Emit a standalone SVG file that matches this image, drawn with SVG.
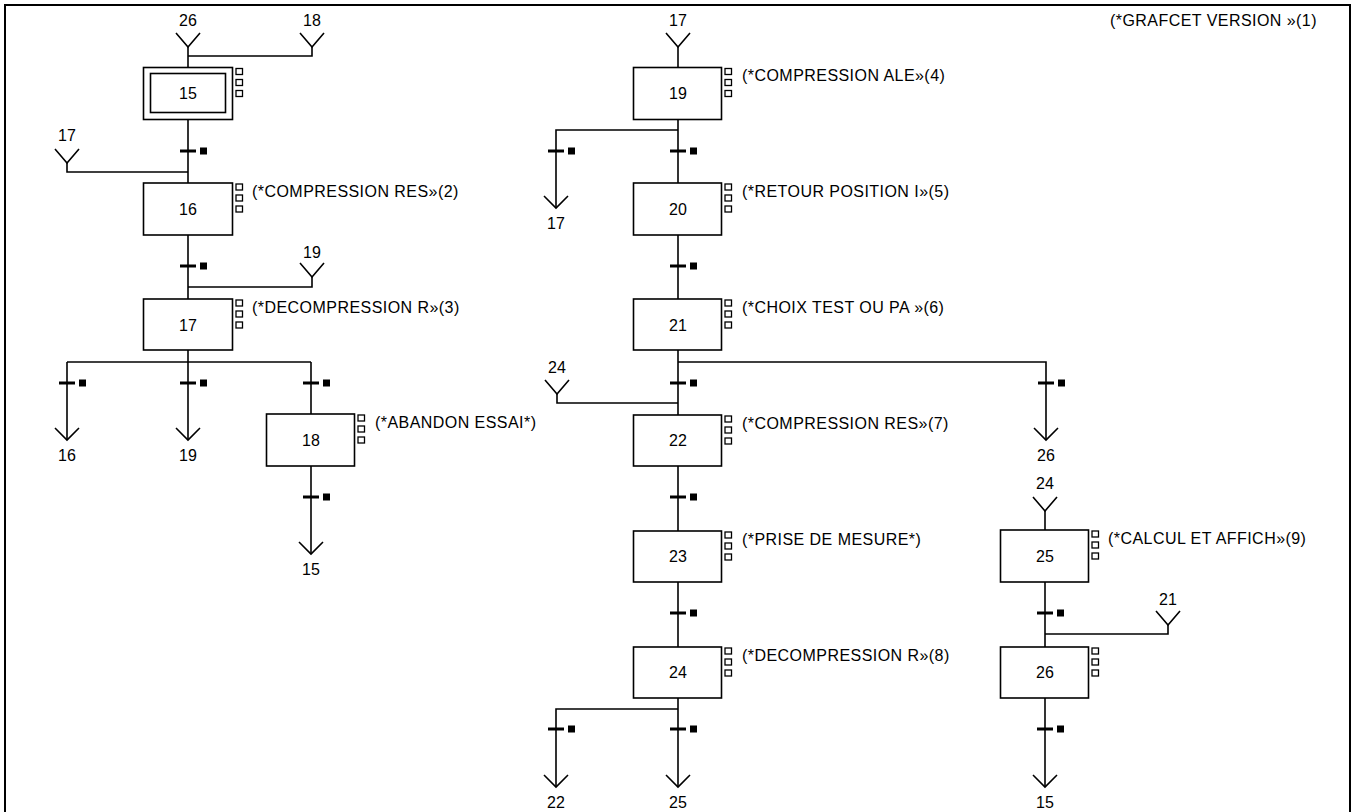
<svg xmlns="http://www.w3.org/2000/svg" width="1354" height="812" viewBox="0 0 1354 812">
<style>
.ln{stroke:#000;stroke-width:1.6;fill:none}
.box{stroke:#000;stroke-width:1.6;fill:#fff}
.sq{stroke:#000;stroke-width:1.3;fill:#fff}
.bar{stroke:#000;stroke-width:3}
.num{font-family:"Liberation Sans",Arial,sans-serif;font-size:16px;text-anchor:middle;fill:#000}
.act{font-family:"Liberation Sans",Arial,sans-serif;font-size:16px;letter-spacing:0.45px;fill:#000}
</style>
<defs>
<g id="acts"><rect class="sq" x="0" y="0" width="6.5" height="6"/><rect class="sq" x="0" y="11" width="6.5" height="6"/><rect class="sq" x="0" y="22" width="6.5" height="6"/></g>
<g id="tr"><line class="bar" x1="-8" y1="0" x2="8" y2="0"/><rect x="12" y="-3.5" width="7" height="7" fill="#000"/></g>
<path id="vin" class="ln" d="M-12,-14 L0,0 L12,-14"/>
<path id="vout" class="ln" d="M-12,-12 L0,0 L12,-12"/>
</defs>
<rect x="0" y="0" width="1354" height="812" fill="#fff"/>
<rect x="5" y="5" width="1345" height="830" fill="none" stroke="#000" stroke-width="2"/>
<text class="act" x="1110" y="26">(*GRAFCET VERSION »(1)</text>

<g id="connectors">
<!-- column 1 -->
<line class="ln" x1="188" y1="47" x2="188" y2="67.5"/>
<use href="#vin" x="188" y="47"/>
<use href="#vin" x="312" y="47"/>
<polyline class="ln" points="312,47 312,56 188,56"/>
<line class="ln" x1="188" y1="119.5" x2="188" y2="183"/>
<use href="#tr" x="188" y="151"/>
<use href="#vin" x="67" y="163"/>
<polyline class="ln" points="67,163 67,172 188,172"/>
<line class="ln" x1="188" y1="235" x2="188" y2="299"/>
<use href="#tr" x="188" y="266"/>
<use href="#vin" x="312" y="277"/>
<polyline class="ln" points="312,277 312,287 188,287"/>
<line class="ln" x1="188" y1="350" x2="188" y2="440"/>
<line class="ln" x1="67" y1="362" x2="311" y2="362"/>
<line class="ln" x1="67" y1="362" x2="67" y2="440"/>
<line class="ln" x1="311" y1="362" x2="311" y2="414"/>
<use href="#tr" x="67" y="383"/>
<use href="#tr" x="188" y="383"/>
<use href="#tr" x="311" y="383"/>
<use href="#vout" x="67" y="440"/>
<use href="#vout" x="188" y="440"/>
<line class="ln" x1="311" y1="466" x2="311" y2="554"/>
<use href="#tr" x="311" y="497"/>
<use href="#vout" x="311" y="554"/>
<!-- column 2 -->
<use href="#vin" x="678" y="47"/>
<line class="ln" x1="678" y1="47" x2="678" y2="67.5"/>
<line class="ln" x1="678" y1="119.5" x2="678" y2="183"/>
<polyline class="ln" points="678,130 556,130 556,208"/>
<use href="#tr" x="556" y="151"/>
<use href="#tr" x="678" y="151"/>
<use href="#vout" x="556" y="208"/>
<line class="ln" x1="678" y1="235" x2="678" y2="299"/>
<use href="#tr" x="678" y="266"/>
<line class="ln" x1="678" y1="350" x2="678" y2="415"/>
<polyline class="ln" points="678,362 1046,362 1046,440"/>
<use href="#tr" x="678" y="383"/>
<use href="#tr" x="1046" y="383"/>
<use href="#vout" x="1046" y="440"/>
<use href="#vin" x="557" y="394"/>
<polyline class="ln" points="557,394 557,403 678,403"/>
<line class="ln" x1="678" y1="466" x2="678" y2="531"/>
<use href="#tr" x="678" y="497"/>
<line class="ln" x1="678" y1="582" x2="678" y2="647"/>
<use href="#tr" x="678" y="613"/>
<line class="ln" x1="678" y1="698" x2="678" y2="787"/>
<polyline class="ln" points="678,709 556,709 556,787"/>
<use href="#tr" x="556" y="729"/>
<use href="#tr" x="678" y="729"/>
<use href="#vout" x="556" y="787"/>
<use href="#vout" x="678" y="787"/>
<!-- column 3 -->
<use href="#vin" x="1045" y="511"/>
<line class="ln" x1="1045" y1="511" x2="1045" y2="530"/>
<line class="ln" x1="1045" y1="582" x2="1045" y2="647"/>
<use href="#tr" x="1045" y="613"/>
<use href="#vin" x="1168" y="625"/>
<polyline class="ln" points="1168,625 1168,634 1045,634"/>
<line class="ln" x1="1045" y1="698" x2="1045" y2="787"/>
<use href="#tr" x="1045" y="729"/>
<use href="#vout" x="1045" y="787"/>
</g>

<g id="labels">
<text class="num" x="188" y="26">26</text>
<text class="num" x="312" y="26">18</text>
<text class="num" x="67" y="141">17</text>
<text class="num" x="312" y="258">19</text>
<text class="num" x="67" y="461">16</text>
<text class="num" x="188" y="461">19</text>
<text class="num" x="311" y="575">15</text>
<text class="num" x="678" y="26">17</text>
<text class="num" x="556" y="229">17</text>
<text class="num" x="557" y="373">24</text>
<text class="num" x="1046" y="461">26</text>
<text class="num" x="556" y="808">22</text>
<text class="num" x="678" y="808">25</text>
<text class="num" x="1045" y="489">24</text>
<text class="num" x="1168" y="605">21</text>
<text class="num" x="1045" y="808">15</text>
</g>

<g id="step15"><rect class="box" x="143.5" y="67.5" width="89" height="52"/><rect class="box" x="150.5" y="73.5" width="75" height="39"/><text class="num" x="188" y="99">15</text><use href="#acts" x="236" y="68.5"/></g>
<g id="step16"><rect class="box" x="143.5" y="183" width="89" height="52"/><text class="num" x="188" y="215">16</text><use href="#acts" x="236" y="184"/><text class="act" x="252" y="197">(*COMPRESSION RES»(2)</text></g>
<g id="step17"><rect class="box" x="143.5" y="299" width="89" height="51"/><text class="num" x="188" y="331">17</text><use href="#acts" x="236" y="300"/><text class="act" x="252" y="313">(*DECOMPRESSION R»(3)</text></g>
<g id="step18"><rect class="box" x="266.5" y="414" width="88" height="52"/><text class="num" x="311" y="446">18</text><use href="#acts" x="358" y="415"/><text class="act" x="375" y="428">(*ABANDON ESSAI*)</text></g>
<g id="step19"><rect class="box" x="633.5" y="67.5" width="88" height="52"/><text class="num" x="678" y="99">19</text><use href="#acts" x="725" y="68.5"/><text class="act" x="742" y="81">(*COMPRESSION ALE»(4)</text></g>
<g id="step20"><rect class="box" x="633.5" y="183" width="88" height="52"/><text class="num" x="678" y="215">20</text><use href="#acts" x="725" y="184"/><text class="act" x="742" y="197">(*RETOUR POSITION I»(5)</text></g>
<g id="step21"><rect class="box" x="633.5" y="299" width="88" height="51"/><text class="num" x="678" y="331">21</text><use href="#acts" x="725" y="300"/><text class="act" x="742" y="313">(*CHOIX TEST OU PA »(6)</text></g>
<g id="step22"><rect class="box" x="633.5" y="415" width="88" height="51"/><text class="num" x="678" y="446">22</text><use href="#acts" x="725" y="416"/><text class="act" x="742" y="429">(*COMPRESSION RES»(7)</text></g>
<g id="step23"><rect class="box" x="633.5" y="531" width="88" height="51"/><text class="num" x="678" y="562">23</text><use href="#acts" x="725" y="532"/><text class="act" x="742" y="545">(*PRISE DE MESURE*)</text></g>
<g id="step24"><rect class="box" x="633.5" y="647" width="88" height="51"/><text class="num" x="678" y="678">24</text><use href="#acts" x="725" y="648"/><text class="act" x="742" y="661">(*DECOMPRESSION R»(8)</text></g>
<g id="step25"><rect class="box" x="1000.5" y="530" width="88" height="52"/><text class="num" x="1045" y="562">25</text><use href="#acts" x="1092" y="531"/><text class="act" x="1108" y="544">(*CALCUL ET AFFICH»(9)</text></g>
<g id="step26"><rect class="box" x="1000.5" y="647" width="88" height="51"/><text class="num" x="1045" y="678">26</text><use href="#acts" x="1092" y="648"/></g>
</svg>
